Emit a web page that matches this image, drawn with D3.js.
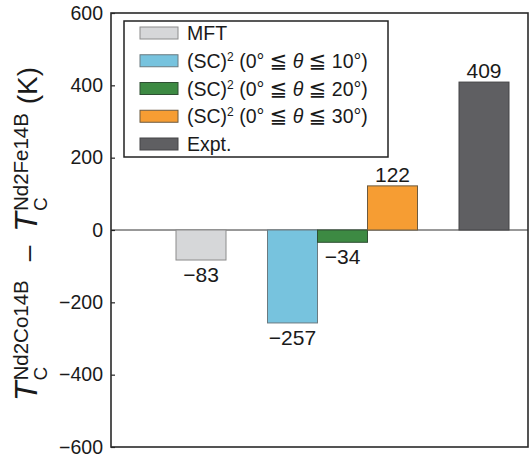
<!DOCTYPE html>
<html>
<head>
<meta charset="utf-8">
<script src="https://cdn.jsdelivr.net/npm/d3@7/dist/d3.min.js"></script>
<style>
  html, body { margin: 0; padding: 0; background: #fff; }
  svg { display: block; font-family: "Liberation Sans", Arial, Helvetica, sans-serif; }
</style>
</head>
<body>
<svg id="chart" width="531" height="457"></svg>
<script>
// Curie temperature difference between Nd2Co14B and Nd2Fe14B
const groups = ["MFT", "SC", "Expt"];
const seriesKeys = ["MFT", "SC10", "SC20", "SC30", "Expt"];
const seriesGroup = ["MFT", "SC", "SC", "SC", "Expt"];
const values = [-83, -257, -34, 122, 409];
const seriesColors = ["#d6d7d9", "#77c3de", "#3d8a43", "#f69d33", "#5f5f62"];
const seriesStrokes = ["#8c8c8c", "#6a7a80", "#2f4f33", "#6b5a40", "#444446"];
const legendAngles = [null, "10°", "20°", "30°", null];
const legendNames = ["MFT", "(SC)", "(SC)", "(SC)", "Expt."];
const yTicks = [-600, -400, -200, 0, 200, 400, 600];

const width = 531, height = 457;
const margin = { top: 13, right: 3, bottom: 10, left: 111 };
const svg = d3.select("#chart");

const y = d3.scaleLinear().domain([-600, 600]).range([height - margin.bottom, margin.top]);

// group centres (asymmetric side gaps), bars 50 px wide
const gx = d3.scalePoint().domain(groups).range([margin.left + 90, width - margin.right - 44]);
const barW = 50;
const inner = {};
groups.forEach(g => {
  const members = seriesKeys.filter((k, i) => seriesGroup[i] === g);
  inner[g] = d3.scaleBand().domain(members).range([-members.length * barW / 2, members.length * barW / 2]);
});
const bars = seriesKeys.map((k, i) => ({ key: k, group: seriesGroup[i], value: values[i], fill: seriesColors[i], stroke: seriesStrokes[i] }));
const xLeft = d => gx(d.group) + inner[d.group](d.key);

// zero line
svg.append("line")
  .attr("x1", margin.left).attr("x2", width - margin.right)
  .attr("y1", y(0)).attr("y2", y(0))
  .attr("stroke", "#333").attr("stroke-width", 1);

// bars
svg.append("g").selectAll("rect").data(bars).join("rect")
  .attr("x", xLeft)
  .attr("width", barW)
  .attr("y", d => y(Math.max(0, d.value)))
  .attr("height", d => Math.abs(y(d.value) - y(0)))
  .attr("fill", d => d.fill)
  .attr("stroke", d => d.stroke)
  .attr("stroke-width", 1);

// value labels
const fmt = v => v < 0 ? "\u2212" + Math.abs(v) : String(v);
svg.append("g").selectAll("text").data(bars).join("text")
  .attr("x", d => xLeft(d) + barW / 2)
  .attr("y", d => d.value < 0 ? y(d.value) + 22 : y(d.value) - 4)
  .attr("text-anchor", "middle")
  .attr("font-size", 21)
  .attr("fill", "#1a1a1a")
  .text(d => fmt(d.value));

// y axis: inward ticks
const yAxis = d3.axisLeft(y).tickValues(yTicks).tickSizeInner(-4).tickSizeOuter(0).tickPadding(8)
  .tickFormat(v => v < 0 ? "\u2212" + Math.abs(v) : String(v));
const ay = svg.append("g").attr("transform", `translate(${margin.left},0)`).call(yAxis);
ay.select(".domain").remove();
ay.selectAll(".tick line").attr("stroke", "#222").attr("stroke-width", 1.2);
ay.selectAll(".tick text").attr("font-size", 19.5).attr("fill", "#1a1a1a")
  .attr("font-family", "'Liberation Sans', Arial, sans-serif");

// frame
svg.append("rect")
  .attr("x", margin.left).attr("y", margin.top)
  .attr("width", width - margin.right - margin.left)
  .attr("height", height - margin.bottom - margin.top)
  .attr("fill", "none").attr("stroke", "#2a2a2a").attr("stroke-width", 1.6);

// legend
const lg = svg.append("g");
lg.append("rect").attr("x", 124).attr("y", 21).attr("width", 264).attr("height", 136)
  .attr("fill", "#fff").attr("stroke", "#222").attr("stroke-width", 1.5);
const rowY = d3.scalePoint().domain(seriesKeys).range([33, 144]);
const rows = lg.selectAll("g.row").data(bars).join("g").attr("class", "row")
  .attr("transform", d => `translate(0,${rowY(d.key)})`);
rows.append("rect").attr("x", 140).attr("y", -6).attr("width", 38).attr("height", 12)
  .attr("fill", d => d.fill).attr("stroke", d => d.stroke).attr("stroke-width", 1);
rows.each(function (d, i) {
  const t = d3.select(this).append("text").attr("x", 187).attr("y", 7)
    .attr("font-size", 19.5).attr("fill", "#1a1a1a");
  t.append("tspan").text(legendNames[i]);
  if (legendAngles[i]) {
    t.append("tspan").attr("font-size", 12).attr("dy", -7).text("2");
    t.append("tspan").attr("dy", 7).text(" (0° ");
    t.append("tspan").attr("font-family", "'DejaVu Sans', sans-serif").attr("font-size", 21).text("\u2266");
    t.append("tspan").text(" ");
    t.append("tspan").attr("font-style", "italic").text("θ");
    t.append("tspan").text(" ");
    t.append("tspan").attr("font-family", "'DejaVu Sans', sans-serif").attr("font-size", 21).text("\u2266");
    t.append("tspan").text(" " + legendAngles[i] + ")");
  }
});

// y axis title: T_C^{Nd2Co14B} − T_C^{Nd2Fe14B} (K)
const title = svg.append("g").attr("transform", "translate(37,234) rotate(-90)");
const pieces = [
  { t: "T", size: 32, italic: true },
  { stack: [{ t: "C", size: 19, dy: 10 }, { t: "Nd2Co14B", size: 20.5, dy: -9 }] },
  { gap: 18 },
  { t: "\u2013", size: 28 },
  { gap: 14 },
  { t: "T", size: 32, italic: true },
  { stack: [{ t: "C", size: 19, dy: 10 }, { t: "Nd2Fe14B", size: 20.5, dy: -9 }] },
  { t: " (K)", size: 28 }
];
let cursor = 0;
const mk = (p, x) => title.append("text").attr("x", x).attr("y", p.dy || 0)
  .attr("font-size", p.size).attr("font-style", p.italic ? "italic" : null)
  .attr("fill", "#1a1a1a").attr("xml:space", "preserve").text(p.t);
pieces.forEach(p => {
  if (p.gap) {
    cursor += p.gap;
  } else if (p.stack) {
    const w = p.stack.map(s => mk(s, cursor + 1).node().getComputedTextLength());
    cursor += d3.max(w) + 2;
  } else {
    cursor += mk(p, cursor).node().getComputedTextLength();
  }
});
title.selectAll("text").attr("transform", `translate(${-cursor / 2},0)`);
</script>
</body>
</html>
